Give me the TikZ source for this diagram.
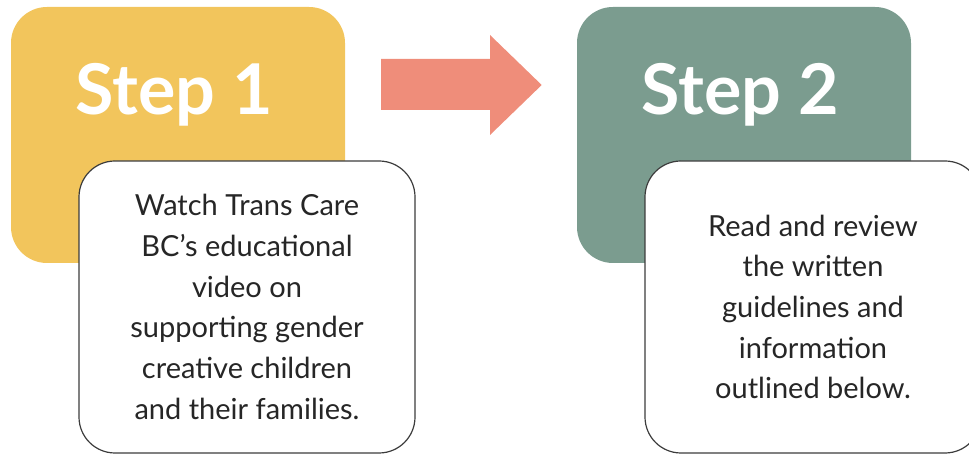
\documentclass[tikz,border=0pt]{standalone}
\usepackage{fontspec}
\setmainfont{Lato}
\usepackage{xcolor}
\usepackage{tikz}
\definecolor{stepyellow}{HTML}{F2C55C}
\definecolor{stepgreen}{HTML}{7B9C8F}
\definecolor{arrowfill}{HTML}{EF8D7A}
\definecolor{boxline}{HTML}{3C3C3C}

\begin{document}
\begin{tikzpicture}[x=1pt,y=1pt,
stepbox/.style={rounded corners=36pt,minimum width=334pt,minimum height=256pt,inner sep=0pt},
stepname/.style={text=white,font=\fontsize{70}{84}\selectfont\bfseries,anchor=base},
infobox/.style={draw=boxline,line width=1.2pt,fill=white,rounded corners=36pt,minimum width=336pt,minimum height=292pt,align=center,text=black!85,font=\fontsize{29}{40.7}\selectfont}]
\useasboundingbox (0,0) rectangle (969,455);
\clip (0,0) rectangle (969,455);
\node[stepbox,fill=stepyellow](box1) at (178,320){};
\node[stepname](step1) at (174,340){Step 1};
\fill[arrowfill](381,345)--(490,345)--(490,320)--(541.7,370)--(490,420)--(490,396)--(381,396)--cycle;
\node[stepbox,fill=stepgreen](box2) at (744,320){};
\node[stepname](step2) at (740,340){Step 2};
\node[infobox](info1) at (247,148){Watch Trans Care\\BC’s educational\\video on\\supporting gender\\creative children\\and their families.};
\node[infobox](info2) at (813,148){Read and review\\the written\\guidelines and\\information\\outlined below.};
\end{tikzpicture}
\end{document}
